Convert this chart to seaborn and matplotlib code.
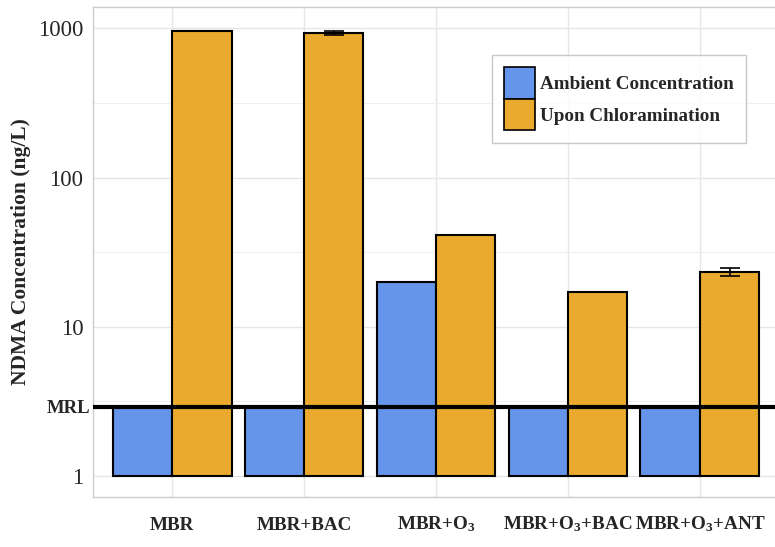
import matplotlib
matplotlib.use("Agg")
import matplotlib.pyplot as plt
from matplotlib.patches import Patch
from matplotlib.ticker import FixedLocator, NullFormatter
from matplotlib.transforms import ScaledTranslation
import numpy as np
import pandas as pd
import seaborn as sns

# NDMA results per treatment train (ng/L)
treatments = ["MBR", "MBR+BAC", "MBR+O$_3$", "MBR+O$_3$+BAC", "MBR+O$_3$+ANT"]
series = ["Ambient Concentration", "Upon Chloramination"]
mrl = 2.9
ambient = [2.9, 2.9, 20, 2.9, 2.9]
chloramination = [960, 930, 41, 17, 23.3]
chloramination_err = [0, 30, 0, 0, 1.5]
y_ticks = [1, mrl, 10, 100, 1000]
y_tick_labels = ["1", "MRL", "10", "100", "1000"]
colors = ["#6595EA", "#E9AA2D"]

df = pd.DataFrame({
    "treatment": treatments * 2,
    "series": [series[0]] * len(treatments) + [series[1]] * len(treatments),
    "conc": ambient + chloramination,
})

sns.set_theme(style="white")
plt.rcParams["font.family"] = ["Liberation Serif", "DejaVu Serif"]
plt.rcParams["mathtext.default"] = "regular"

fig = plt.figure(figsize=(7.75, 5.47), dpi=100)
ax = fig.add_axes([93 / 775, 50 / 547, 686 / 775, 490 / 547])

sns.barplot(data=df, x="treatment", y="conc", hue="series", order=treatments,
            hue_order=series, palette=colors, saturation=1, width=0.9, gap=0,
            errorbar=None, edgecolor="black", linewidth=1.5, legend=False,
            ax=ax, zorder=3)

ax.set_yscale("log")

# bars rise from 1 ng/L on the log axis
for container in ax.containers:
    for bar in container:
        h = bar.get_height()
        bar.set_y(1)
        bar.set_height(h - 1)

# error bars on the chloramination bars
chl_bars = list(ax.containers[1])
xs = [b.get_x() + b.get_width() / 2 for b in chl_bars]
for x, v, e in zip(xs, chloramination, chloramination_err):
    if e > 0:
        ax.errorbar(x, v, yerr=e, fmt="none", ecolor="black", elinewidth=1.2,
                    capsize=7, capthick=1.2, zorder=4)

# method reporting limit
ax.axhline(mrl, color="black", linewidth=3, zorder=5)

ax.set_xlim(-0.6, len(treatments) - 0.4)
ax.set_ylim(0.723, 1390)
ax.set_yticks(y_ticks)
ax.set_yticklabels(y_tick_labels)
ax.yaxis.set_minor_locator(FixedLocator([10 ** 0.5, 10 ** 1.5, 10 ** 2.5]))
ax.yaxis.set_minor_formatter(NullFormatter())

ax.tick_params(axis="y", which="major", length=5, color="#BBBBBB", pad=2)
ax.tick_params(axis="y", which="minor", length=0)
ax.tick_params(axis="x", length=5, color="#BBBBBB", pad=18.5, labelsize=13.8)

for tick, lbl in zip(ax.yaxis.get_major_ticks(), ax.get_yticklabels()):
    if lbl.get_text() == "MRL":
        lbl.set_fontweight("bold")
        lbl.set_fontsize(13.5)
        tick.tick1line.set_visible(False)
        lbl.set_transform(lbl.get_transform()
                          + ScaledTranslation(5 / 72, 0, fig.dpi_scale_trans))
    else:
        lbl.set_fontsize(16.5)

# category names share one baseline, subscripts hang below it
for lbl in ax.get_xticklabels():
    lbl.set_fontweight("bold")
    lbl.set_verticalalignment("baseline")

ax.grid(True, which="major", color="#E6E6E6", linewidth=1.0, zorder=0)
ax.grid(True, which="minor", axis="y", color="#EFEFEF", linewidth=0.8, zorder=0)
ax.set_axisbelow(True)
for sp in ax.spines.values():
    sp.set_color("#CCCCCC")
    sp.set_linewidth(1.0)

ax.set_xlabel("")
ax.set_ylabel("NDMA Concentration (ng/L)", fontsize=15.5, fontweight="bold",
              labelpad=5)

handles = [Patch(facecolor=c, edgecolor="black", linewidth=1.2, label=s)
           for c, s in zip(colors, series)]
leg = ax.legend(handles=handles, loc="upper left",
                bbox_to_anchor=((492 - 93) / 686, (497 - 55) / 490),
                borderaxespad=0, frameon=True, fancybox=False,
                prop={"family": "Liberation Serif", "weight": "bold", "size": 13.8},
                handlelength=1.6, handleheight=2.15, labelspacing=0,
                handletextpad=0.25, borderpad=0.65)
leg.get_frame().set_edgecolor("#BBBBBB")
leg.get_frame().set_linewidth(1.0)

fig.savefig("out.png", dpi=100)
